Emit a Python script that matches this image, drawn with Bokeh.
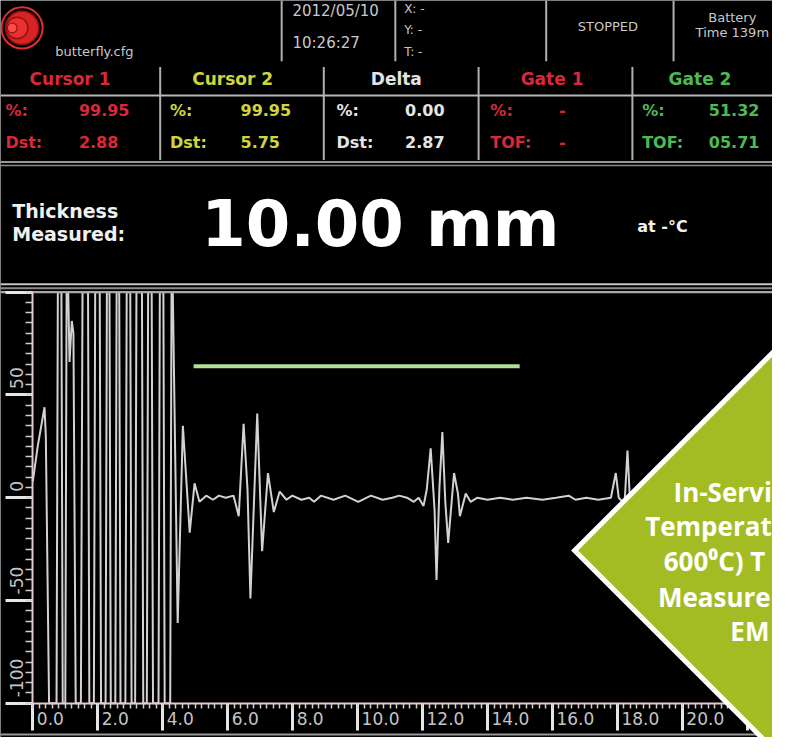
import math
from bokeh.plotting import figure
from bokeh.models import Range1d, LinearAxis, SingleIntervalTicker, CustomJSTickFormatter, ColumnDataSource
from bokeh.core.properties import value
from bokeh.embed import file_html
from bokeh.resources import INLINE

# A-scan trace (screen time scale, amplitude in %)
burst_t = [0.00, 0.15, 0.36, 0.40, 0.50, 0.73, 0.77, 0.88, 0.92, 1.00,
           1.04, 1.09, 1.13, 1.20, 1.25, 1.32, 1.48, 1.53, 1.70, 1.74,
           1.88, 1.92, 2.06, 2.10, 2.24, 2.28, 2.36, 2.40, 2.54, 2.58,
           2.66, 2.70, 2.85, 2.89, 3.00, 3.04, 3.15, 3.19, 3.36, 3.40,
           3.51, 3.55, 3.66, 3.70, 3.87, 3.91, 4.02, 4.06, 4.23, 4.27,
           4.31, 4.46, 4.62, 4.83, 4.98]
burst_a = [8, 25, 44, 30, -100, -100, 100, 100, -100, -100,
           100, 100, 66, 86, 80, -100, -100, 100, 100, -100,
           -100, 100, 100, -100, -100, 100, 100, -100, -100, 100,
           100, -100, -100, 100, 100, -100, -100, 100, 100, -100,
           -100, 100, 100, -100, -100, 100, 100, -100, -100, 100,
           100, -61, 35, -17, 7]
echo1_t = [5.13, 5.34, 5.55, 5.73, 5.94, 6.18, 6.34, 6.49, 6.61, 6.70, 6.91, 7.06, 7.24, 7.42,
           7.60, 7.81, 7.99, 8.27, 8.51, 8.66, 8.87, 9.26, 9.62, 10.02, 10.41, 10.77, 11.07,
           11.28, 11.52, 11.73, 11.88]
echo1_a = [-2, 1, -1, 1, 0, 1, -9, 36, 4, -49, 41, -26, 12, -7,
           3, -1, 1, -1, 0, -2, 1, -1, 1, -2, 1, -1, 0,
           1, 0, -2, 0]
echo2_t = [12.03, 12.13, 12.25, 12.37, 12.43, 12.52, 12.61, 12.70, 12.79, 12.97, 13.09, 13.15,
           13.33, 13.48, 13.69, 14.00, 14.39, 14.78, 15.20, 15.69, 16.11, 16.50, 16.71, 17.04,
           17.41, 17.80]
echo2_a = [-4, 4, 24, -6, -40, 5, 32, -2, -22, 12, 2, -9,
           2, -2, 0, -1, 0, -1, 0, -1, 0, 1, -1, 0,
           -1, 0]
echo3_t = [17.95, 18.04, 18.22, 18.31, 18.43, 18.61, 18.91, 19.52, 20.72, 22.70]
echo3_a = [12, 0, -3, 23, -15, -5, 3, 0, 0, 0]

gate2_start, gate2_end, gate2_level = 4.95, 14.99, 64

x_tick_values = [0, 2, 4, 6, 8, 10, 12, 14, 16, 18, 20]
x_tick_labels = ["0.0", "2.0", "4.0", "6.0", "8.0", "10.0", "12.0", "14.0", "16.0", "18.0", "20.0"]
y_tick_values = [-100, -50, 0, 50]
y_tick_labels = ["-100", "-50", "0", "50"]

columns = ["Cursor 1", "Cursor 2", "Delta", "Gate 1", "Gate 2"]
row1_labels = ["%:", "%:", "%:", "%:", "%:"]
row1_values = ["99.95", "99.95", "0.00", "-", "51.32"]
row2_labels = ["Dst:", "Dst:", "Dst:", "TOF:", "TOF:"]
row2_values = ["2.88", "5.75", "2.87", "-", "05.71"]
thickness_text = "10.00 mm"
banner_lines = ["In-Servi", "Temperat", "600\u2070C) T", "Measure", "EM"]

# ---------------- layout / style ----------------
W, H = 772, 737               # canvas size (fits the window inside the 8px margin)
RW, RH = 788, 753             # design grid (reference pixels) mapped onto the canvas
T0_PX, PX_PER_T = 33, 33.15   # design x of t=0, px per unit
A0_PY, PX_PER_A = 508, 2.1    # design y of amp=0, px per %

RED, YEL, WHT, GRN = "#D9283A", "#CFD63C", "#E4E4E4", "#4DBA55"
col_colors = [RED, YEL, WHT, RED, GRN]
col_head_x = [71, 237, 404, 563, 714]
col_lab_x = [5, 173, 343, 500, 655]
col_val_x = [80, 245, 413, 570, 723]
FONT = value("DejaVu Sans")

p = figure(width=W, height=H, x_range=Range1d(0, RW), y_range=Range1d(RH, 0),
           x_axis_type=None, y_axis_type=None, toolbar_location=None, output_backend="svg",
           min_border=0, background_fill_color="black", border_fill_color="black",
           outline_line_color=None)
p.extra_x_ranges = {"t": Range1d((0 - T0_PX) / PX_PER_T, (RW - T0_PX) / PX_PER_T)}
p.extra_y_ranges = {"a": Range1d((A0_PY - RH) / PX_PER_A, A0_PY / PX_PER_A)}


def txt(x, y, s, color, size, bold=False, align="left", font=FONT, baseline="middle"):
    p.text(x=[x], y=[y], text=[s], text_color=color, text_font=font,
           text_font_size=f"{size}px", text_font_style="bold" if bold else "normal",
           text_align=align, text_baseline=baseline)


def seg(x0, y0, x1, y1, color="#B0B0B0", w=2):
    p.segment(x0=[x0], y0=[y0], x1=[x1], y1=[y1], line_color=color, line_width=w)


# ---- logo ----
p.circle(x=[22], y=[28], radius=21, fill_color=None, line_color="#E03030", line_width=2)
p.circle(x=[22], y=[28], radius=17, fill_color="#D82424", line_color="#8E1212", line_width=1.5)
p.circle(x=[17], y=[28], radius=11, fill_color="#EA3030", line_color="#8E1212", line_width=1.5)
p.circle(x=[12], y=[28], radius=5, fill_color="#FF4A4A", line_color="#8E1212", line_width=1.2)

# ---- top status row ----
LG = "#C8C8C8"
txt(56, 52, "butterfly.cfg", LG, 13)
txt(298, 11, "2012/05/10", LG, 15)
txt(298, 43, "10:26:27", LG, 15)
txt(412, 9, "X: -", LG, 12)
txt(412, 30, "Y: -", LG, 12)
txt(412, 53, "T: -", LG, 12)
txt(620, 27, "STOPPED", LG, 13, align="center")
txt(747, 17, "Battery", LG, 13, align="center")
txt(747, 33, "Time 139m", LG, 13, align="center")
for xv in [287, 403, 557, 687]:
    seg(xv, 0, xv, 62)

# ---- cursor / gate table ----
for i, name in enumerate(columns):
    c = col_colors[i]
    txt(col_head_x[i], 80, name, c, 17, bold=True, align="center")
    txt(col_lab_x[i], 112, row1_labels[i], c, 16, bold=True)
    txt(col_val_x[i], 112, row1_values[i], c, 16, bold=True)
    txt(col_lab_x[i], 145, row2_labels[i], c, 16, bold=True)
    txt(col_val_x[i], 145, row2_values[i], c, 16, bold=True)
for xv in [163, 330, 488, 645]:
    seg(xv, 68, xv, 163)
seg(0, 97, RW, 97, "#B8B8B8", 2)
seg(0, 165, RW, 165, "#C8C8C8", 1.5)
seg(0, 168.5, RW, 168.5, "#8A8A8A", 1.5)

# ---- thickness readout ----
txt(12, 215, "Thickness", "#F0F0F0", 19, bold=True)
txt(12, 239, "Measured:", "#F0F0F0", 19, bold=True)
txt(205, 228, thickness_text, "#FFFFFF", 64, bold=True)
txt(650, 231, "at -\u00b0C", "#F0F0F0", 16, bold=True)

# ---- A-scan ----
trace_t = burst_t + echo1_t + echo2_t + echo3_t
trace_a = burst_a + echo1_a + echo2_a + echo3_a
p.line(trace_t, trace_a, x_range_name="t", y_range_name="a", line_color="#D2D2D2", line_width=2)
p.line([gate2_start, gate2_end], [gate2_level, gate2_level], x_range_name="t", y_range_name="a",
       line_color="#AEE096", line_width=4)

# frame lines above the A-scan and at the bottom of the screen
seg(0, 290, RW, 290, "#C4C4C4", 2)
seg(0, 294, RW, 294, "#8C8C8C", 2)
seg(0, 298, RW, 298, "#A8A8A8", 2.2)
seg(0, 750, RW, 750, "#9A9A9A", 2)

empty = CustomJSTickFormatter(code="return ''")
xaxis = LinearAxis(x_range_name="t", y_range_name="a", fixed_location=-100,
                   ticker=SingleIntervalTicker(interval=2, num_minor_ticks=10), bounds=(0, 22.8),
                   formatter=empty, axis_line_color="#E8CACA", axis_line_width=2,
                   major_tick_line_color="#E6E6E6", major_tick_line_width=3,
                   major_tick_out=27, major_tick_in=0,
                   minor_tick_line_color="#D0D0D0", minor_tick_line_width=1.5,
                   minor_tick_out=5, minor_tick_in=0)
p.add_layout(xaxis, "below")
yaxis = LinearAxis(x_range_name="t", y_range_name="a", fixed_location=0,
                   ticker=SingleIntervalTicker(interval=50, num_minor_ticks=10), bounds=(-100, 100),
                   formatter=empty, axis_line_color="#E8CACA", axis_line_width=2,
                   major_tick_line_color="#E6E6E6", major_tick_line_width=3,
                   major_tick_out=27, major_tick_in=0,
                   minor_tick_line_color="#D0D0D0", minor_tick_line_width=1.5,
                   minor_tick_out=7, minor_tick_in=0)
p.add_layout(yaxis, "left")

xl = ColumnDataSource(dict(x=x_tick_values, y=[-100] * len(x_tick_values), text=x_tick_labels))
p.text(x="x", y="y", text="text", source=xl, x_range_name="t", y_range_name="a",
       x_offset=4, y_offset=9, text_align="left", text_baseline="top",
       text_font=FONT, text_font_size="17px", text_color="#C4C4C4")
yl = ColumnDataSource(dict(x=[0] * len(y_tick_values), y=y_tick_values, text=y_tick_labels))
p.text(x="x", y="y", text="text", source=yl, x_range_name="t", y_range_name="a",
       x_offset=-16, y_offset=-6, angle=math.pi / 2, text_align="left", text_baseline="middle",
       text_font=FONT, text_font_size="17px", text_color="#C4C4C4")

# ---- banner (diamond) ----
DX, DY, R = 586, 562, 300
p.patch([DX, DX + R, DX + 2 * R, DX + R], [DY, DY - R, DY, DY + R], fill_color="#A3BC23",
        line_color="#FFFFFF", line_width=5, line_join="miter", level="overlay")
banner_x = [687, 658, 677, 671, 745]
banner_y = [502, 537, 573, 609, 644]
bs = ColumnDataSource(dict(x=banner_x, y=banner_y, text=banner_lines))
p.text(x="x", y="y", text="text", source=bs, text_font=value("Open Sans"), text_font_style="bold",
       text_font_size="26px", text_color="#FFFFFF", text_align="left", text_baseline="alphabetic",
       level="overlay")

open("out.html", "w").write(file_html(p, INLINE))
